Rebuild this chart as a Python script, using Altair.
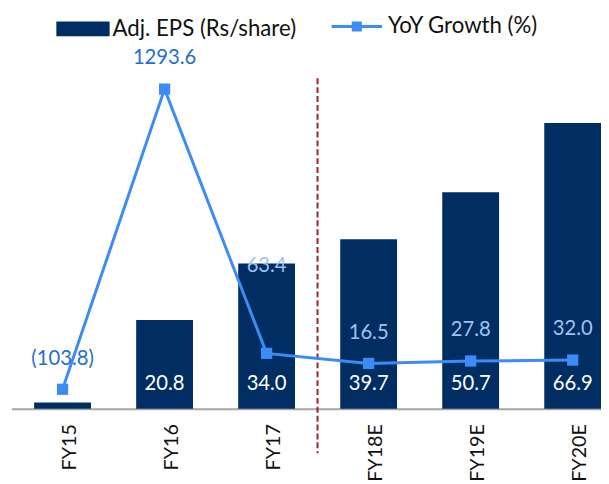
import altair as alt
import pandas as pd

years = ["FY15", "FY16", "FY17", "FY18E", "FY19E", "FY20E"]
eps = [1.5, 20.8, 34.0, 39.7, 50.7, 66.9]
growth = [-103.8, 1293.6, 63.4, 16.5, 27.8, 32.0]

df = pd.DataFrame({"year": years, "eps": eps, "growth": growth})

FONT = "Lato"
FS = 20.5
LFS = 22.5
NAVY = "#002D62"
BLUE = "#3C8CF5"
LBL_OUT = "#1F6FD1"
LBL_IN = "#9DC3EE"

base = alt.Chart(df).transform_calculate(
    s1="'Adj. EPS (Rs/share)'",
    s2="'YoY Growth (%)'",
    epslabel="format(datum.eps, '.1f')",
    glabel="datum.growth < 0 ? '(' + format(-datum.growth, '.1f') + ')' : format(datum.growth, '.1f')",
)

x = alt.X(
    "year:N",
    sort=years,
    scale=alt.Scale(range=[3.6, 624], paddingInner=0.443, paddingOuter=0.2215),
    axis=alt.Axis(
        title=None, labelAngle=-90, labelFontSize=20, labelFont=FONT,
        labelColor="#111111", ticks=False, domainColor="#A6A6A6",
        domainWidth=2, labelPadding=15, labelAlign="right",
        labelBaseline="middle", labelOffset=8,
    ),
)

bar_scale = alt.Scale(domain=[0, 93.1])
bars = base.mark_bar().encode(
    x=x,
    y=alt.Y("eps:Q", scale=bar_scale, axis=None),
    fill=alt.Fill(
        "s1:N",
        scale=alt.Scale(domain=["Adj. EPS (Rs/share)"], range=[NAVY]),
        legend=alt.Legend(
            title=None, orient="none", legendX=49, legendY=-9,
            symbolType="M-1,-0.278L1,-0.278L1,0.278L-1,0.278Z",
            symbolSize=2916, symbolStrokeWidth=0, labelFontSize=LFS,
            labelFont=FONT, labelColor="#111111", labelOffset=3, padding=0,
            labelLimit=400,
        ),
    ),
)
bar_text = base.mark_text(
    color="white", fontSize=FS, font=FONT, baseline="alphabetic", dy=-19.5
).encode(
    x=alt.X("year:N", sort=years),
    y=alt.YDatum(0, scale=bar_scale),
    text="epslabel:N",
)
divider = base.mark_rule(color="#A3201F", strokeWidth=2, strokeDash=[6, 3]).encode(
    x=alt.value(313.7), y=alt.value(68), y2=alt.value(448)
).transform_filter("datum.year == 'FY18E'")

bar_layer = alt.layer(bars, bar_text, divider)

g_scale = alt.Scale(domain=[-194.8, 1656.6])
gy = alt.Y("growth:Q", scale=g_scale, axis=None)
line = base.mark_line(color=BLUE, strokeWidth=3).encode(
    x=alt.X("year:N", sort=years), y=gy
)
pts = base.mark_point(shape="square", filled=True, size=130, opacity=1).encode(
    x=alt.X("year:N", sort=years),
    y=gy,
    color=alt.Color(
        "s2:N",
        scale=alt.Scale(domain=["YoY Growth (%)"], range=[BLUE]),
        legend=alt.Legend(
            title=None, orient="none", legendX=328, legendY=-10,
            symbolType="M-1,-0.06L1,-0.06L1,0.06L-1,0.06ZM-0.2,-0.2L0.2,-0.2L0.2,0.2L-0.2,0.2Z",
            symbolSize=2601, symbolStrokeWidth=0, labelFontSize=LFS,
            labelFont=FONT, labelColor="#111111", labelOffset=6, padding=0,
            labelLimit=400,
        ),
    ),
)
txt_color = alt.condition(
    "datum.year == 'FY15' || datum.year == 'FY16'",
    alt.value(LBL_OUT),
    alt.value(LBL_IN),
)
g_text = base.mark_text(
    fontSize=FS, font=FONT, baseline="alphabetic", dy=-25
).encode(
    x=alt.X("year:N", sort=years), y=gy, text="glabel:N", color=txt_color
).transform_filter("datum.year != 'FY17'")
g_text17 = base.mark_text(
    fontSize=FS, font=FONT, baseline="alphabetic", dy=-82
).encode(
    x=alt.X("year:N", sort=years), y=gy, text="glabel:N", color=txt_color
).transform_filter("datum.year == 'FY17'")

line_layer = alt.layer(line, pts, g_text, g_text17)

chart = (
    alt.layer(bar_layer, line_layer)
    .resolve_scale(y="independent")
    .properties(
        width=601,
        height=403,
        autosize=alt.AutoSizeParams(type="none"),
        padding={"left": 0, "top": 0, "right": 0, "bottom": 73},
    )
    .configure_view(stroke=None)
)

chart.save("out.html", embed_options={"renderer": "svg", "actions": False})
